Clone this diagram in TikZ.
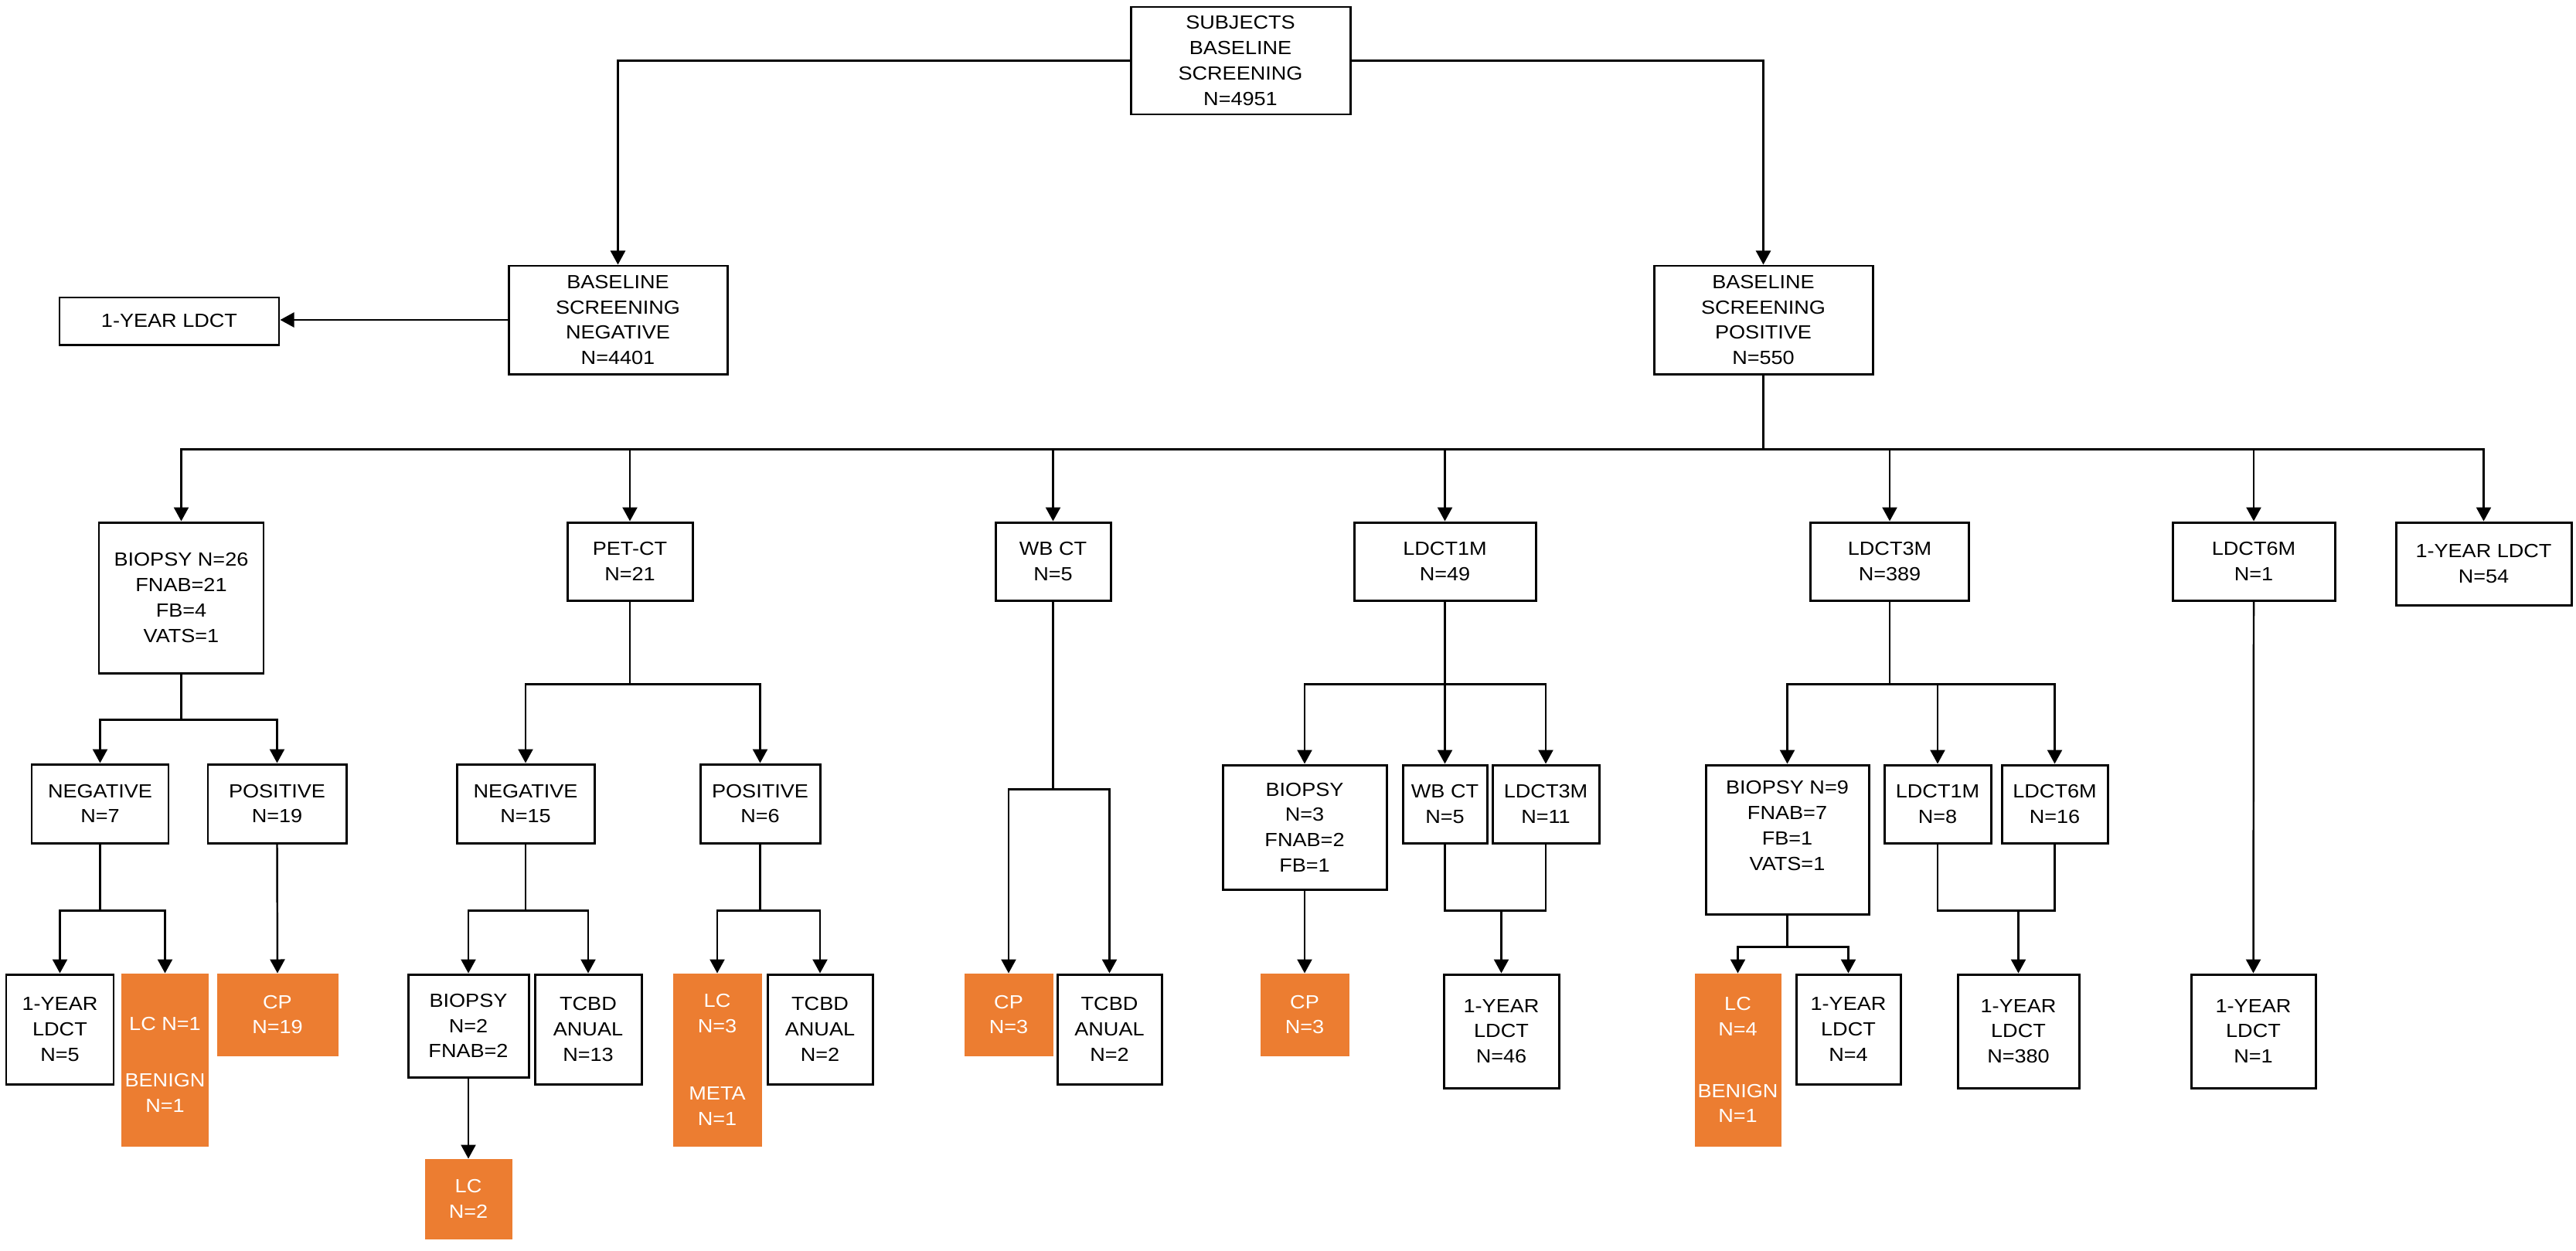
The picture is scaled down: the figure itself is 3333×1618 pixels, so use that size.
\documentclass[tikz,border=0pt]{standalone}
\usepackage{fontspec}
\setmainfont{Liberation Sans}[FakeStretch=1.1]
\usepackage{xcolor}
\usetikzlibrary{arrows.meta,positioning}
\definecolor{lcorange}{RGB}{236,125,49}

\begin{document}
\begin{tikzpicture}[x=0.01cm,y=-0.01cm,
 box/.style={draw,line width=0.85pt,align=center,inner sep=0pt,font=\fontsize{7}{9.3}\selectfont},
 hit/.style={box,draw=lcorange,fill=lcorange,text=white},
 wh/.style 2 args={minimum width=0.01cm*#1,minimum height=0.01cm*#2},
 arr/.style={line width=0.7pt,-{Triangle[length=0.18cm,width=0.19cm]}},
 lnk/.style={line width=0.7pt}]
\useasboundingbox (0,0) rectangle (3333,1618);
\node[box,wh={284}{139}] (subj) at (1605,78.5) {SUBJECTS\\BASELINE\\SCREENING\\N=4951};
\node[box,wh={283}{140}] (neg) at (799.5,414) {BASELINE\\SCREENING\\NEGATIVE\\N=4401};
\node[box,wh={283}{140}] (pos) at (2281.5,414) {BASELINE\\SCREENING\\POSITIVE\\N=550};
\node[box,wh={284}{61}] (lyr) at (219,415.5) {1-YEAR LDCT};
\node[box,wh={213}{195}] (bio) at (234.5,773.5) {BIOPSY N=26\\FNAB=21\\FB=4\\VATS=1};
\node[box,wh={162}{101}] (pet) at (815,726.5) {PET-CT\\N=21};
\node[box,wh={149}{101}] (wbct) at (1362.5,726.5) {WB CT\\N=5};
\node[box,wh={235}{101}] (ldone) at (1869.5,726.5) {LDCT1M\\N=49};
\node[box,wh={205}{101}] (ldthree) at (2445,726.5) {LDCT3M\\N=389};
\node[box,wh={210}{101}] (ldsix) at (2916,726.5) {LDCT6M\\N=1};
\node[box,wh={227}{107}] (yrfive) at (3213.5,729.5) {1-YEAR LDCT\\N=54};
\node[box,wh={177}{102}] (bneg) at (129.5,1040) {NEGATIVE\\N=7};
\node[box,wh={179}{102}] (bpos) at (358.5,1040) {POSITIVE\\N=19};
\node[box,wh={178}{102}] (pneg) at (680,1040) {NEGATIVE\\N=15};
\node[box,wh={155}{102}] (ppos) at (983.5,1040) {POSITIVE\\N=6};
\node[box,wh={212}{161}] (lbio) at (1688,1070.5) {BIOPSY\\N=3\\FNAB=2\\FB=1};
\node[box,wh={109}{101}] (lwb) at (1869.5,1040.5) {WB CT\\N=5};
\node[box,wh={138}{101}] (lthree) at (2000,1040.5) {LDCT3M\\N=11};
\node[box,wh={211}{193}] (tbio) at (2312.5,1086.5) {BIOPSY N=9\\FNAB=7\\FB=1\\VATS=1\\[1pt]~};
\node[box,wh={138}{101}] (tone) at (2507,1040.5) {LDCT1M\\N=8};
\node[box,wh={137}{101}] (tsix) at (2658.5,1040.5) {LDCT6M\\N=16};
\node[box,wh={139}{142}] (a1) at (77.5,1332) {1-YEAR\\LDCT\\N=5};
\node[hit,wh={111}{221}] (a2) at (213.5,1371.5) {~\\[-1pt]LC N=1\\[11.5pt]BENIGN\\N=1};
\node[hit,wh={154}{104}] (a3) at (359,1313) {CP\\N=19};
\node[box,wh={156}{133}] (b1) at (606,1327.5) {BIOPSY\\N=2\\FNAB=2};
\node[box,wh={138}{142}] (b2) at (761,1332) {TCBD\\ANUAL\\N=13};
\node[hit,wh={112}{221}] (b3) at (928,1371.5) {LC\\N=3\\[15.5pt]META\\N=1};
\node[box,wh={136}{142}] (b4) at (1061,1332) {TCBD\\ANUAL\\N=2};
\node[hit,wh={110}{101}] (b5) at (606,1551.5) {LC\\N=2};
\node[hit,wh={112}{104}] (c1) at (1305,1313) {CP\\N=3};
\node[box,wh={135}{142}] (c2) at (1435.5,1332) {TCBD\\ANUAL\\N=2};
\node[hit,wh={112}{104}] (d1) at (1688,1313) {CP\\N=3};
\node[box,wh={149}{147}] (d2) at (1942.5,1334.5) {1-YEAR\\LDCT\\N=46};
\node[hit,wh={109}{221}] (e1) at (2248.5,1371.5) {LC\\N=4\\[13.5pt]BENIGN\\N=1};
\node[box,wh={135}{142}] (e2) at (2391.5,1332) {1-YEAR\\LDCT\\N=4};
\node[box,wh={157}{147}] (e3) at (2611.5,1334.5) {1-YEAR\\LDCT\\N=380};
\node[box,wh={161}{147}] (e4) at (2915.5,1334.5) {1-YEAR\\LDCT\\N=1};
\draw[arr] (subj.west) -| (neg.north);
\draw[arr] (subj.east) -| (pos.north);
\draw[arr] (neg.west) -- (neg.west -| lyr.east);
\draw[lnk] (pos.south) -- ++(0,96) coordinate (hub);
\foreach \n in {bio,pet,wbct,ldone,ldthree,ldsix,yrfive} \draw[arr] (hub) -| (\n.north);
\draw[lnk] (bio.south) -- ++(0,59) coordinate (hbio);
\foreach \n in {bneg,bpos} \draw[arr] (hbio) -| (\n.north);
\draw[lnk] (pet.south) -- ++(0,107) coordinate (hpet);
\foreach \n in {pneg,ppos} \draw[arr] (hpet) -| (\n.north);
\draw[lnk] (wbct.south) -- ++(0,243) coordinate (hwb);
\foreach \n in {c1,c2} \draw[arr] (hwb) -| (\n.north);
\draw[lnk] (ldone.south) -- ++(0,107) coordinate (hone);
\foreach \n in {lbio,lwb,lthree} \draw[arr] (hone) -| (\n.north);
\draw[lnk] (ldthree.south) -- ++(0,107) coordinate (hthree);
\foreach \n in {tbio,tone,tsix} \draw[arr] (hthree) -| (\n.north);
\draw[arr] (ldsix.south) -- (e4.north);
\draw[lnk] (bneg.south) -- ++(0,86) coordinate (hneg);
\foreach \n in {a1,a2} \draw[arr] (hneg) -| (\n.north);
\draw[arr] (bpos.south) -- (a3.north);
\draw[lnk] (pneg.south) -- ++(0,86) coordinate (hpneg);
\foreach \n in {b1,b2} \draw[arr] (hpneg) -| (\n.north);
\draw[lnk] (ppos.south) -- ++(0,86) coordinate (hppos);
\foreach \n in {b3,b4} \draw[arr] (hppos) -| (\n.north);
\draw[arr] (b1.south) -- (b5.north);
\draw[arr] (lbio.south) -- (d1.north);
\draw[lnk] (lwb.south) -- ++(0,86) coordinate (mwb) -| (lthree.south);
\draw[arr] (mwb -| d2.north) -- (d2.north);
\draw[lnk] (tbio.south) -- ++(0,41) coordinate (htbio);
\foreach \n in {e1,e2} \draw[arr] (htbio) -| (\n.north);
\draw[lnk] (tone.south) -- ++(0,86) coordinate (mone) -| (tsix.south);
\draw[arr] (mone -| e3.north) -- (e3.north);
\end{tikzpicture}
\end{document}
